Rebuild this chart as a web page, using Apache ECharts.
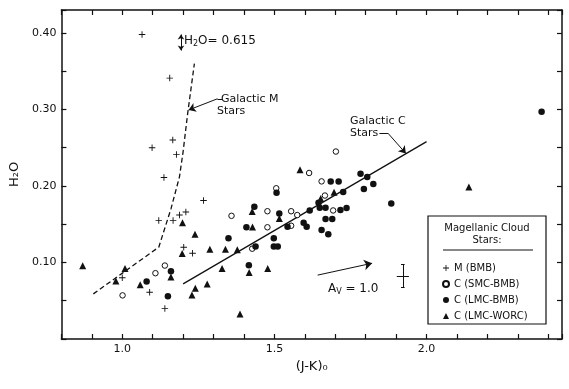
<!DOCTYPE html>
<html><head><meta charset="utf-8">
<script src="https://cdn.jsdelivr.net/npm/echarts@6/dist/echarts.min.js"></script>
<style>html,body{margin:0;padding:0;background:#fff}#c{width:569px;height:389px}</style>
</head><body><div id="c"></div>
<script>
// ---- data: (J-K)0 , H2O ----
const seriesNames = ['M (BMB)', 'C (SMC-BMB)', 'C (LMC-BMB)', 'C (LMC-WORC)'];
const xTickLabels = ['1.0', '1.5', '2.0'];
const yTickLabels = ['0.10', '0.20', '0.30', '0.40'];

const mBMB = [
  [1.065,0.398],[1.156,0.341],[1.166,0.260],[1.098,0.250],[1.178,0.241],[1.137,0.211],
  [1.267,0.181],[1.120,0.155],[1.167,0.155],[1.188,0.162],[1.209,0.166],[1.202,0.120],
  [1.231,0.112],[1.000,0.080],[1.090,0.061],[1.140,0.040]
];
const cSMC = [
  [1.001,0.057],[1.109,0.086],[1.140,0.096],[1.359,0.161],[1.427,0.118],[1.477,0.146],
  [1.477,0.167],[1.506,0.197],[1.555,0.167],[1.555,0.148],[1.575,0.162],[1.614,0.217],
  [1.655,0.206],[1.666,0.1875],[1.693,0.168],[1.702,0.245]
];
const cLMC = [
  [1.080,0.0753],[1.150,0.0558],[1.160,0.0887],[1.349,0.1316],[1.408,0.146],[1.416,0.0965],
  [1.434,0.173],[1.438,0.121],[1.498,0.1316],[1.498,0.121],[1.511,0.121],[1.507,0.191],
  [1.516,0.164],[1.543,0.1466],[1.596,0.152],[1.606,0.1468],[1.616,0.168],[1.649,0.1715],
  [1.668,0.1715],[1.655,0.1424],[1.668,0.157],[1.690,0.157],[1.677,0.1368],[1.685,0.2057],
  [1.711,0.2057],[1.726,0.192],[1.717,0.1687],[1.737,0.1713],[1.783,0.216],[1.805,0.2116],
  [1.825,0.2027],[1.794,0.1962],[1.884,0.177],[1.645,0.178],[2.378,0.297]
];
const cWORC = [
  [0.870,0.0958],[0.979,0.0757],[1.009,0.0922],[1.059,0.0709],[1.160,0.081],[1.198,0.1518],
  [1.197,0.1117],[1.239,0.1368],[1.229,0.0575],[1.240,0.0662],[1.279,0.0718],[1.288,0.1173],
  [1.328,0.0922],[1.339,0.1173],[1.378,0.1166],[1.387,0.0328],[1.417,0.087],[1.427,0.1667],
  [1.428,0.1463],[1.478,0.0922],[1.516,0.1576],[1.584,0.2213],[1.652,0.1836],[1.696,0.1918],
  [2.139,0.1988]
];
const galacticM = [[0.905,0.059],[1.120,0.120],[1.160,0.170],[1.188,0.212],[1.200,0.245],[1.215,0.295],[1.237,0.360]];
const galacticC = [[1.200,0.072],[2.000,0.258]];
const reddeningArrow = [[1.642,0.0835],[1.821,0.0990]];
const errorBar = {x:1.922, y:0.0826, dx:0.020, dy:0.0153};
const h2oOffscale = {x:1.193, y0:0.377, y1:0.398};

const INK = '#111';
const FONT = '"DejaVu Sans", sans-serif';
const plusPath = 'path://M-1,-0.14H1V0.14H-1Z M-0.14,-1H0.14V1H-0.14Z';

function seg(a, b, s0, s1, size) {
  return [{coord:a, symbol:s0||'none', symbolSize:size||7}, {coord:b, symbol:s1||'none', symbolSize:size||7}];
}
const eb = errorBar;
const annotationLines = [
  seg(reddeningArrow[0], reddeningArrow[1], 'none', 'arrow', 8),
  seg([eb.x, eb.y-eb.dy], [eb.x, eb.y+eb.dy]),
  seg([eb.x-eb.dx, eb.y], [eb.x+eb.dx, eb.y]),
  seg([eb.x-0.006, eb.y+eb.dy], [eb.x+0.006, eb.y+eb.dy]),
  seg([eb.x-0.006, eb.y-eb.dy], [eb.x+0.006, eb.y-eb.dy]),
  seg([h2oOffscale.x, h2oOffscale.y0], [h2oOffscale.x, h2oOffscale.y1], 'arrow', 'arrow', 5),
  seg([1.329,0.314], [1.313,0.314]),
  seg([1.313,0.314], [1.218,0.2993], 'none', 'arrow', 7),
  seg([1.845,0.269], [1.873,0.269]),
  seg([1.873,0.269], [1.932,0.2425], 'none', 'arrow', 7)
];

const chart = echarts.init(document.getElementById('c'), null, {renderer:'canvas'});
const axisCommon = {
  axisLine:{show:true, onZero:false, lineStyle:{color:INK, width:1.5}},
  axisTick:{show:true, inside:true, length:5, lineStyle:{color:INK, width:1.2}},
  splitLine:{show:false}
};
chart.setOption({
  animation:false,
  backgroundColor:'#fff',
  textStyle:{fontFamily:FONT, color:INK},
  grid:{left:58, right:7, top:10, bottom:50, containLabel:false},
  xAxis:[
    Object.assign({type:'value', min:0.8, max:2.445, interval:0.1, position:'bottom',
      name:'(J-K)₀', nameLocation:'middle', nameGap:16,
      nameTextStyle:{fontFamily:FONT, fontSize:13, color:INK},
      axisLabel:{show:true, margin:5, fontSize:11, color:INK, fontFamily:FONT,
        formatter:v => { const s = v.toFixed(1); return (Math.abs(v*2-Math.round(v*2))<1e-6 && xTickLabels.includes(s)) ? s : ''; }}
    }, axisCommon),
    Object.assign({type:'value', min:0.8, max:2.445, interval:0.1, position:'top', axisLabel:{show:false}}, axisCommon)
  ],
  yAxis:[
    Object.assign({type:'value', min:0, max:0.43, interval:0.05, position:'left',
      name:'H₂O', nameLocation:'middle', nameGap:40, nameRotate:90,
      nameTextStyle:{fontFamily:FONT, fontSize:13, color:INK},
      axisLabel:{show:true, margin:5, fontSize:11, color:INK, fontFamily:FONT,
        formatter:v => { const s = v.toFixed(2); return yTickLabels.includes(s) && Math.abs(v*10-Math.round(v*10))<1e-6 ? s : ''; }}
    }, axisCommon),
    Object.assign({type:'value', min:0, max:0.43, interval:0.05, position:'right', axisLabel:{show:false}}, axisCommon)
  ],
  legend:{
    show:true, orient:'vertical', left:437, top:257, itemWidth:6, itemHeight:6, itemGap:4,
    data:seriesNames, selectedMode:false,
    textStyle:{fontFamily:FONT, fontSize:10, color:INK, lineHeight:12}
  },
  series:[
    {name:'Galactic M Stars', type:'line', data:galacticM, symbol:'none', silent:true, z:2,
      lineStyle:{color:INK, width:1.3, type:[5,3]}},
    {name:'Galactic C Stars', type:'line', data:galacticC, symbol:'none', silent:true, z:2,
      lineStyle:{color:INK, width:1.3},
      markLine:{silent:true, symbol:['none','none'], label:{show:false},
        lineStyle:{color:INK, width:1, type:'solid'}, emphasis:{disabled:true},
        itemStyle:{color:INK}, data:annotationLines}},
    {name:seriesNames[0], type:'scatter', data:mBMB, symbol:plusPath, symbolSize:6.5, z:5,
      itemStyle:{color:INK, opacity:1}},
    {name:seriesNames[1], type:'scatter', data:cSMC, symbol:'circle', symbolSize:5.5, z:5,
      itemStyle:{color:'#fff', borderColor:INK, borderWidth:1, opacity:1}},
    {name:seriesNames[2], type:'scatter', data:cLMC, symbol:'circle', symbolSize:6.5, z:5,
      itemStyle:{color:INK, opacity:1}},
    {name:seriesNames[3], type:'scatter', data:cWORC, symbol:'triangle', symbolSize:7, z:5,
      itemStyle:{color:INK, opacity:1}}
  ],
  graphic:[
    {type:'text', x:184, y:41, style:{text:'{n|H}{s|2}{n|O= 0.615}', verticalAlign:'middle', fill:INK,
      rich:{n:{fontFamily:FONT, fontSize:12, lineHeight:14, fill:INK}, s:{fontFamily:FONT, fontSize:8, verticalAlign:'bottom', fill:INK}}}},
    {type:'text', x:221, y:99, style:{text:'Galactic M', font:'11px "DejaVu Sans"', fill:INK, verticalAlign:'middle'}},
    {type:'text', x:217, y:111, style:{text:'Stars', font:'11px "DejaVu Sans"', fill:INK, verticalAlign:'middle'}},
    {type:'text', x:350, y:121, style:{text:'Galactic C', font:'11px "DejaVu Sans"', fill:INK, verticalAlign:'middle'}},
    {type:'text', x:350, y:133, style:{text:'Stars', font:'11px "DejaVu Sans"', fill:INK, verticalAlign:'middle'}},
    {type:'text', x:328, y:289, style:{text:'{n|A}{s|V}{n| = 1.0}', verticalAlign:'middle', fill:INK,
      rich:{n:{fontFamily:FONT, fontSize:12, lineHeight:14, fill:INK}, s:{fontFamily:FONT, fontSize:8, verticalAlign:'bottom', fill:INK}}}},
    {type:'rect', shape:{x:428, y:216, width:118, height:108}, style:{fill:'none', stroke:INK, lineWidth:1.2}},
    {type:'text', x:487, y:228, style:{text:'Magellanic Cloud', font:'10px "DejaVu Sans"', fill:INK, align:'center', verticalAlign:'middle'}},
    {type:'text', x:487, y:240, style:{text:'Stars:', font:'10px "DejaVu Sans"', fill:INK, align:'center', verticalAlign:'middle'}},
    {type:'line', shape:{x1:443, y1:250, x2:533, y2:250}, style:{stroke:INK, lineWidth:1}}
  ]
});
</script></body></html>
